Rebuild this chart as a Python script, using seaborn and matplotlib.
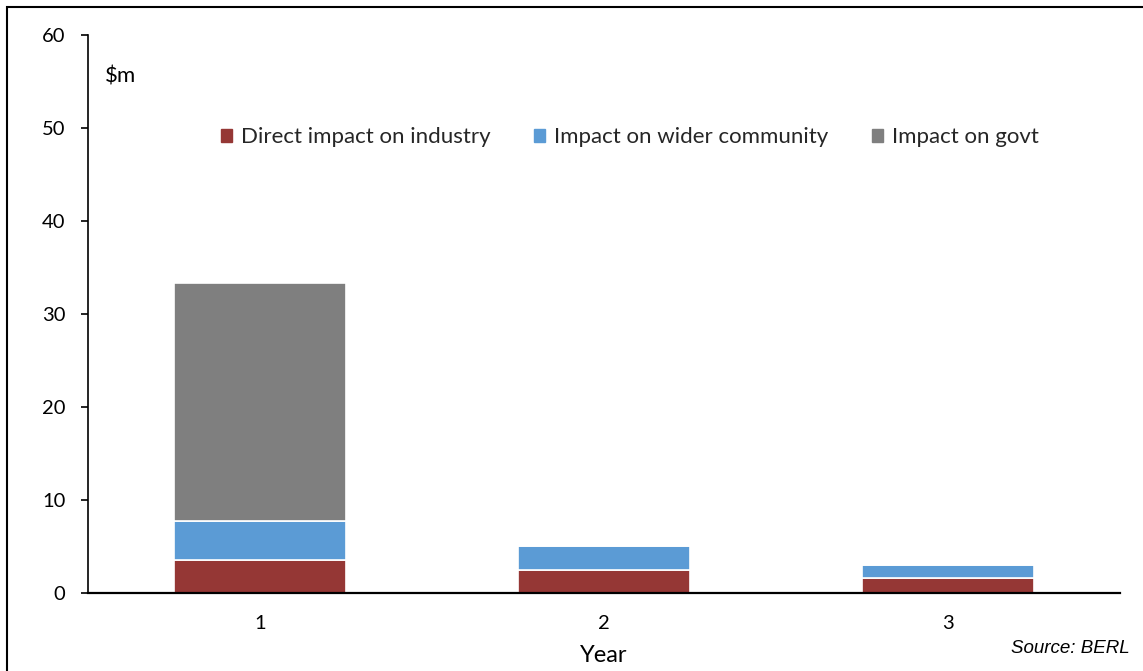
import matplotlib
matplotlib.use("Agg")
import matplotlib.pyplot as plt
import matplotlib.patches as mpatches
import seaborn as sns
import pandas as pd
import numpy as np

# Economic impact by year, $m
years = ["1", "2", "3"]
direct_industry = [3.55, 2.5, 1.65]
wider_community = [4.2, 2.6, 1.35]
govt = [25.55, 0.0, 0.0]

series_names = ["Direct impact on industry", "Impact on wider community", "Impact on govt"]
series_colors = ["#953735", "#5B9BD5", "#7F7F7F"]

sns.set_theme(style="white")
plt.rcParams["font.family"] = ["Lato", "DejaVu Sans"]

fig = plt.figure(figsize=(11.43, 6.71), dpi=100)
ax = fig.add_axes([0.0766, 0.1163, 0.9037, 0.8315])

df = pd.DataFrame({"Year": years,
                   series_names[0]: direct_industry,
                   series_names[1]: wider_community,
                   series_names[2]: govt})

bottom = np.zeros(len(years))
for name, color in zip(series_names, series_colors):
    vals = df[name].to_numpy()
    sns.barplot(x=df["Year"], y=vals, bottom=bottom, color=color, width=0.5,
                edgecolor="white", linewidth=1.2, ax=ax, label=name,
                saturation=1)
    bottom = bottom + vals

ax.set_ylim(0, 60)
ax.set_xlim(-0.5, 2.5)
ax.set_yticks(range(0, 61, 10))
ax.tick_params(axis="y", direction="out", length=5, width=1.2, color="black",
               pad=11, labelsize=14.5, left=True)
ax.tick_params(axis="x", length=0, pad=16, labelsize=14.5)
for lbl in ax.get_xticklabels() + ax.get_yticklabels():
    lbl.set_color("black")

for s in ["top", "right"]:
    ax.spines[s].set_visible(False)
ax.spines["left"].set_color("black")
ax.spines["left"].set_linewidth(1.2)
ax.spines["bottom"].set_color("black")
ax.spines["bottom"].set_linewidth(1.6)

ax.set_ylabel("")
ax.set_xlabel("Year", fontsize=17, color="black", labelpad=9)
ax.text(0.017, 0.925, "$m", transform=ax.transAxes, fontsize=16,
        color="black", va="center", ha="left")

handles = [mpatches.Patch(color=c, label=n) for n, c in zip(series_names, series_colors)]
ax.legend(handles=handles, loc="center", bbox_to_anchor=(0.525, 0.817),
          ncol=3, frameon=False, fontsize=16, handlelength=0.5,
          handleheight=0.5, handletextpad=0.4, columnspacing=1.95)

fig.text(0.9885, 0.034, "Source: BERL", ha="right", va="center",
         fontsize=13.5, style="italic", family="Liberation Sans", color="black")

# Outer chart frame (open on right and bottom edges)
frame = mpatches.Rectangle((0.0061, -0.05), 1.1, 1.04, transform=fig.transFigure,
                           fill=False, edgecolor="black", linewidth=1.5)
fig.patches.append(frame)

fig.savefig("out.png", dpi=100)
